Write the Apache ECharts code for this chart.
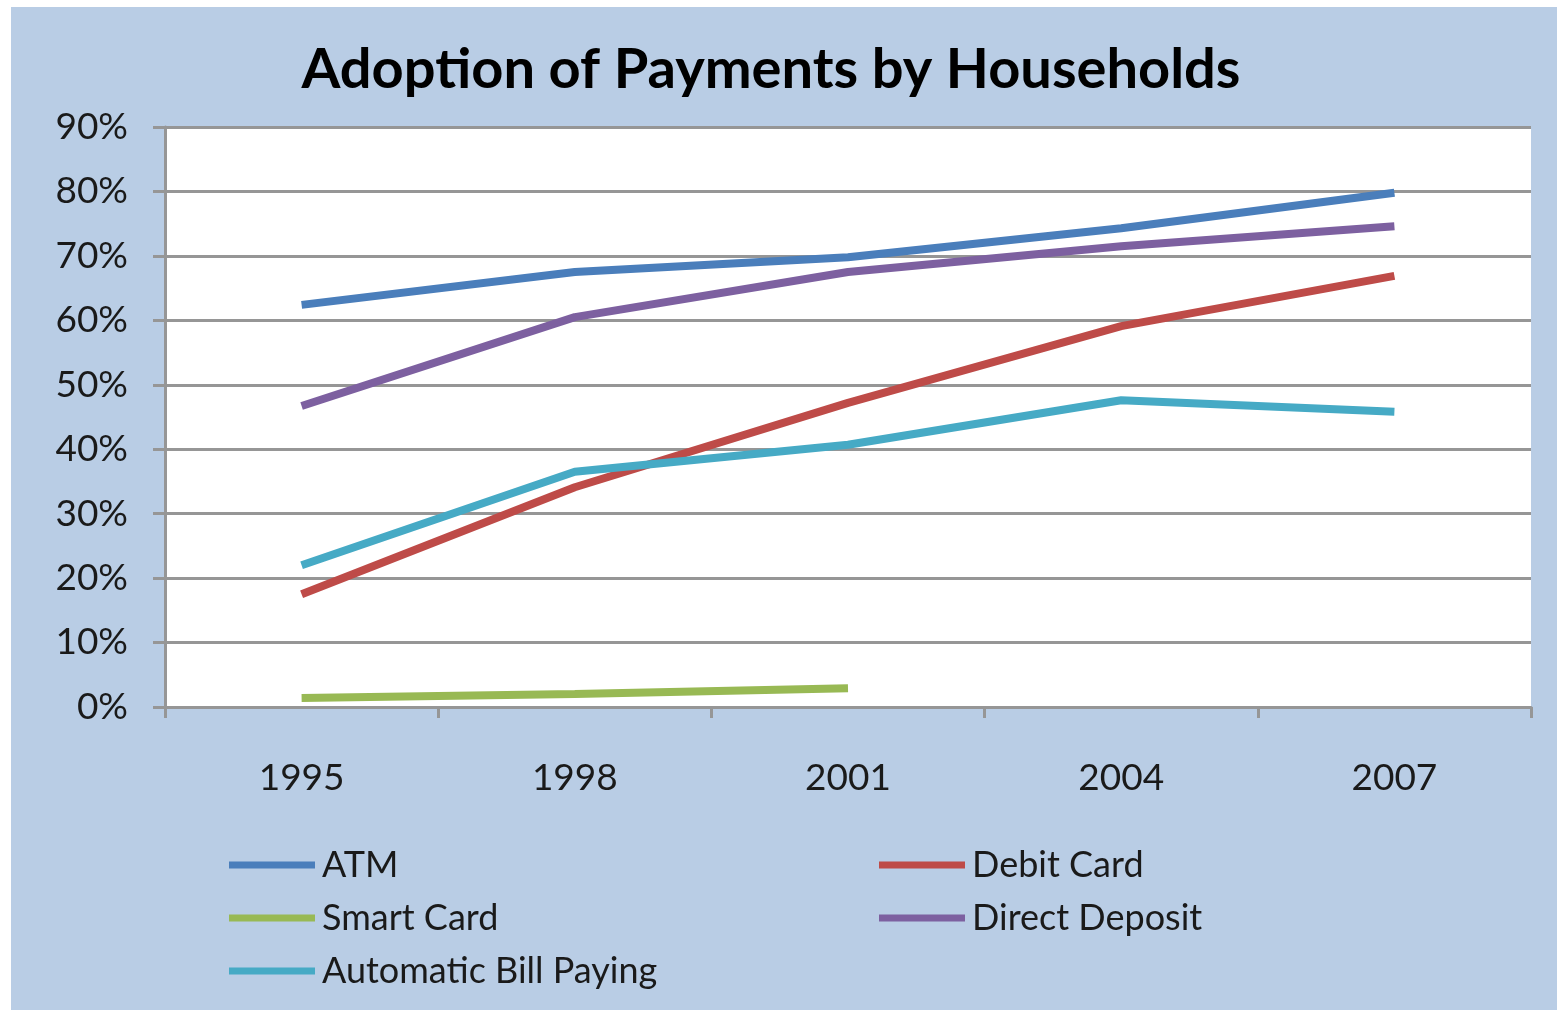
<!DOCTYPE html>
<html>
<head>
<meta charset="utf-8">
<script src="https://cdn.jsdelivr.net/npm/echarts@6/dist/echarts.min.js"></script>
<style>
  html, body { margin: 0; padding: 0; background: #ffffff; }
  #main { width: 1557px; height: 1010px; }
</style>
</head>
<body>
<div id="main"></div>
<script>
// data
var years = ['1995', '1998', '2001', '2004', '2007'];
var atm = [62.4, 67.5, 69.8, 74.3, 79.8];
var debitCard = [17.5, 34.1, 47.2, 59.1, 66.9];
var smartCard = [1.4, 2.0, 2.9, null, null];
var directDeposit = [46.7, 60.5, 67.5, 71.5, 74.6];
var autoBill = [22.0, 36.5, 40.7, 47.6, 45.8];

var font = 'Lato, "Open Sans", sans-serif';
var gridColor = '#969696';

function line(name, data, color) {
  return {
    name: name,
    type: 'line',
    data: data,
    showSymbol: false,
    symbol: 'none',
    lineStyle: { width: 8, color: color, cap: 'butt' },
    itemStyle: { color: color }
  };
}

var legendText = { fontFamily: font, fontSize: 36, lineHeight: 40, color: '#1a1a1a', padding: [0, 0, 0, 2] };

var myChart = echarts.init(document.getElementById('main'));

myChart.setOption({
  backgroundColor: '#ffffff',
  animation: false,
  graphic: [{
    type: 'rect',
    z: -10,
    silent: true,
    shape: { x: 11, y: 7, width: 1546, height: 1003 },
    style: { fill: '#b9cde5' }
  }],
  title: {
    text: 'Adoption of Payments by Households',
    left: 766,
    textAlign: 'center',
    top: 37,
    textStyle: { fontFamily: font, fontWeight: 'bold', fontSize: 56, color: '#000000' }
  },
  legend: [{
    orient: 'vertical',
    left: 224,
    top: 840,
    height: 160,
    itemWidth: 86,
    itemHeight: 7,
    itemGap: 13,
    icon: 'rect',
    data: ['ATM', 'Smart Card', 'Automatic Bill Paying'],
    textStyle: legendText
  }, {
    orient: 'vertical',
    left: 874,
    top: 840,
    height: 160,
    itemWidth: 86,
    itemHeight: 7,
    itemGap: 13,
    icon: 'rect',
    data: ['Debit Card', 'Direct Deposit'],
    textStyle: legendText
  }],
  grid: {
    left: 165,
    right: 26,
    top: 127,
    height: 580,
    show: true,
    backgroundColor: '#ffffff',
    borderWidth: 0
  },
  xAxis: {
    type: 'category',
    data: years,
    boundaryGap: true,
    axisLine: { show: true, lineStyle: { color: gridColor, width: 3 } },
    axisTick: { show: true, length: 11, lineStyle: { color: gridColor, width: 3 } },
    axisLabel: { fontFamily: font, fontSize: 37, color: '#1a1a1a', margin: 53 }
  },
  yAxis: {
    type: 'value',
    min: 0,
    max: 90,
    interval: 10,
    axisLine: { show: true, lineStyle: { color: gridColor, width: 3 } },
    axisTick: { show: true, length: 12, lineStyle: { color: gridColor, width: 3 } },
    splitLine: { show: true, lineStyle: { color: gridColor, width: 3 } },
    axisLabel: {
      fontFamily: font, fontSize: 37, color: '#1a1a1a', margin: 37,
      formatter: function (v) { return v + '%'; }
    }
  },
  series: [
    line('ATM', atm, '#4a7ebb'),
    line('Debit Card', debitCard, '#be4b48'),
    line('Smart Card', smartCard, '#98b954'),
    line('Direct Deposit', directDeposit, '#7d60a0'),
    line('Automatic Bill Paying', autoBill, '#46aac5')
  ]
});
</script>
</body>
</html>
